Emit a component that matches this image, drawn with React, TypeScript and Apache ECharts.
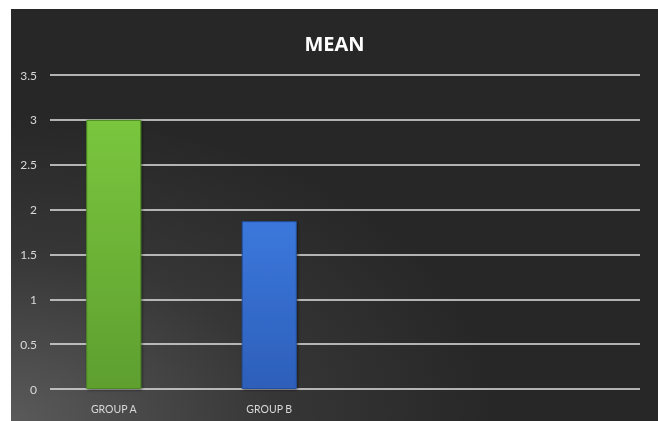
import React, { useEffect, useRef } from "react";
import * as echarts from "echarts";

const categories = ["GROUP A", "GROUP B", "", ""];
const meanValues = [3.0, 1.87];
const yTicks = { min: 0, max: 3.5, interval: 0.5 };
const titleText = "MEAN";

const barColors = [
  { top: "#7ac63e", bottom: "#5e9f2f", border: "#4e8a26" },
  { top: "#3b78dc", bottom: "#2d5fba", border: "#24509f" },
];

export default function App() {
  const ref = useRef<HTMLDivElement>(null);
  useEffect(() => {
    if (!ref.current) return;
    const chart = echarts.init(ref.current, null, { renderer: "svg" });
    const font = "Lato, 'Open Sans', sans-serif";
    chart.setOption({
      animation: false,
      backgroundColor: {
        type: "radial",
        x: 0,
        y: 1,
        r: 0.75,
        colorStops: [
          { offset: 0, color: "#5a5a5a" },
          { offset: 0.55, color: "#363636" },
          { offset: 1, color: "#272727" },
        ],
      },
      title: {
        text: titleText,
        left: "center",
        top: 19,
        textStyle: {
          color: "#ffffff",
          fontSize: 20,
          fontWeight: "bold",
          fontFamily: "'Open Sans', Lato, sans-serif",
        },
      },
      grid: [
        { left: 39, right: 18, top: 66, bottom: 32 },
        { left: 25, width: 628, top: 66, bottom: 32 },
      ],
      xAxis: [
        {
          gridIndex: 0,
          type: "category",
          data: categories,
          axisLine: { show: false },
          axisTick: { show: false },
          axisLabel: { show: false },
          splitLine: { show: false },
        },
        {
          gridIndex: 1,
          type: "category",
          data: categories,
          axisLine: { show: false },
          axisTick: { show: false },
          axisLabel: {
            color: "#d9d9d9",
            fontSize: 10.5,
            fontFamily: font,
            margin: 14,
          },
        },
      ],
      yAxis: [
        {
          gridIndex: 0,
          type: "value",
          min: yTicks.min,
          max: yTicks.max,
          interval: yTicks.interval,
          axisLine: { show: false },
          axisTick: { show: false },
          axisLabel: {
            color: "#d9d9d9",
            fontSize: 12,
            fontFamily: font,
            margin: 13,
          },
          splitLine: {
            show: true,
            lineStyle: {
              color: "#e2e2e2",
              width: 1.5,
              type: "solid",
            },
          },
        },
        {
          gridIndex: 1,
          type: "value",
          min: yTicks.min,
          max: yTicks.max,
          interval: yTicks.interval,
          axisLine: { show: false },
          axisTick: { show: false },
          axisLabel: { show: false },
          splitLine: { show: false },
        },
      ],
      series: [
        {
          type: "bar",
          xAxisIndex: 1,
          yAxisIndex: 1,
          barWidth: 55,
          data: meanValues.map((v, i) => ({
            value: v,
            itemStyle: {
              color: {
                type: "linear",
                x: 0,
                y: 0,
                x2: 0,
                y2: 1,
                colorStops: [
                  { offset: 0, color: barColors[i].top },
                  { offset: 1, color: barColors[i].bottom },
                ],
              },
              borderColor: barColors[i].border,
              borderWidth: 1,
              shadowColor: "rgba(0,0,0,0.5)",
              shadowBlur: 3,
              shadowOffsetX: 1,
              shadowOffsetY: 1,
            },
          })),
        },
      ],
    });
    return () => chart.dispose();
  }, []);
  return (
    <div
      ref={ref}
      style={{ position: "fixed", left: 11, top: 9, width: 647, height: 412 }}
    />
  );
}
